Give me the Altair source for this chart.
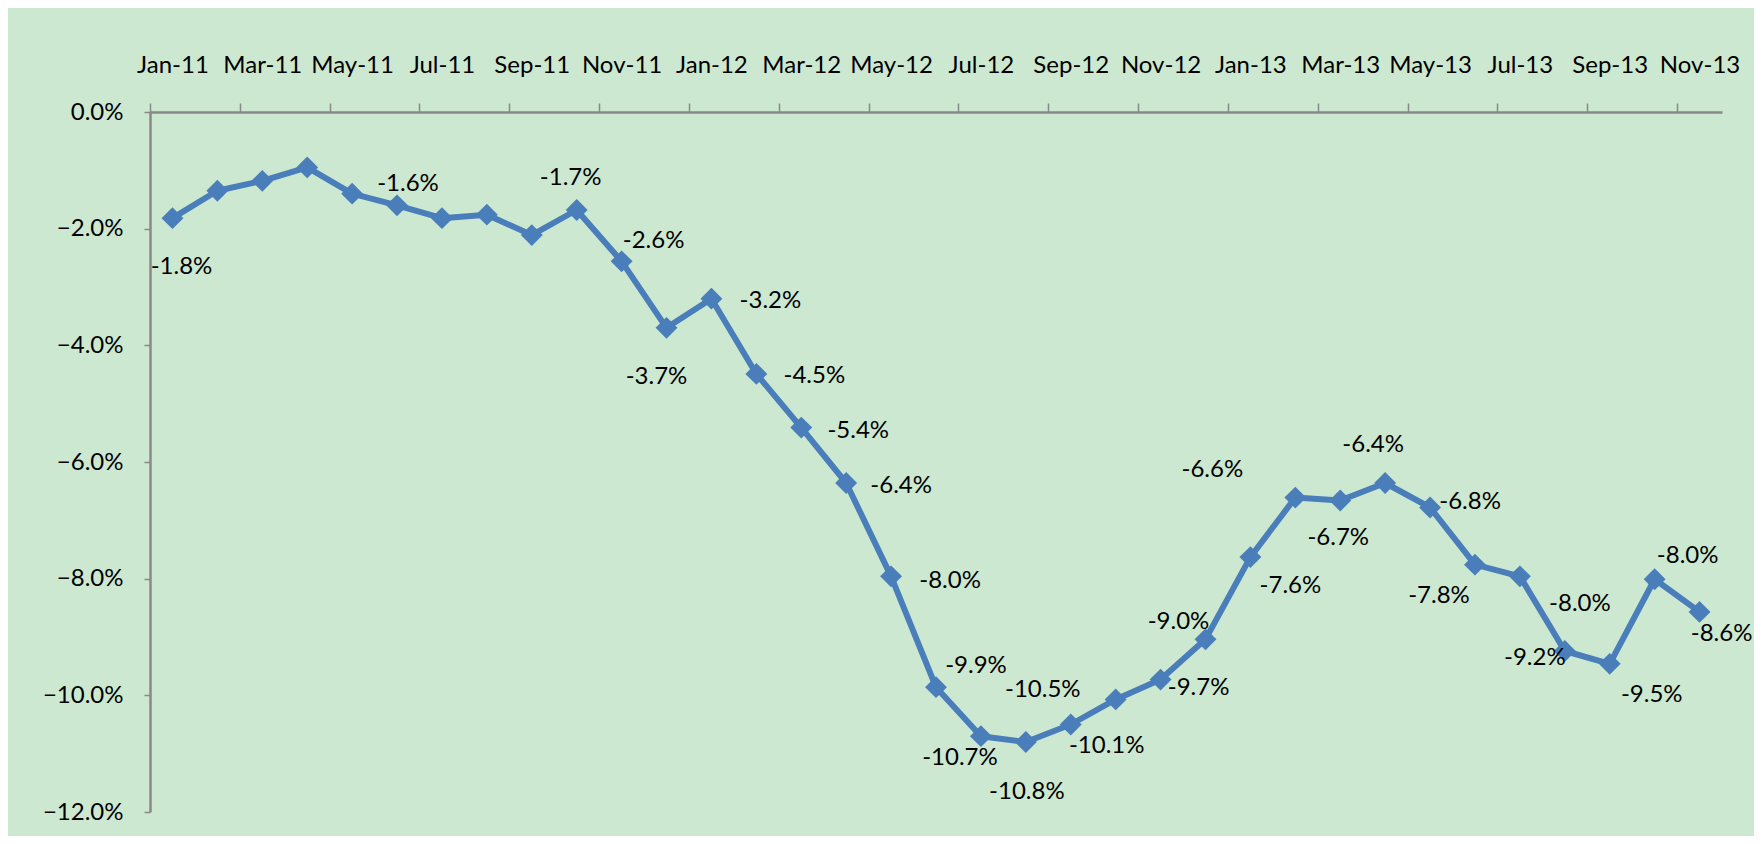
import altair as alt
import pandas as pd

# ---------------- data ----------------
months = [
    "Jan-11", "Feb-11", "Mar-11", "Apr-11", "May-11", "Jun-11", "Jul-11", "Aug-11",
    "Sep-11", "Oct-11", "Nov-11", "Dec-11", "Jan-12", "Feb-12", "Mar-12", "Apr-12",
    "May-12", "Jun-12", "Jul-12", "Aug-12", "Sep-12", "Oct-12", "Nov-12", "Dec-12",
    "Jan-13", "Feb-13", "Mar-13", "Apr-13", "May-13", "Jun-13", "Jul-13", "Aug-13",
    "Sep-13", "Oct-13", "Nov-13",
]
values = [
    -1.82, -1.35, -1.18, -0.95, -1.40, -1.60, -1.82, -1.76,
    -2.11, -1.68, -2.56, -3.70, -3.20, -4.49, -5.41, -6.36,
    -7.96, -9.86, -10.70, -10.80, -10.50, -10.07, -9.73, -9.04,
    -7.63, -6.61, -6.66, -6.36, -6.78, -7.76, -7.96, -9.24,
    -9.46, -8.01, -8.57,
]
show_label = [
    True, False, False, False, False, True, False, False,
    False, True, True, True, True, True, True, True,
    True, True, True, True, True, True, True, True,
    True, True, True, True, True, True, True, True,
    True, True, True,
]
tick_labels = months[::2]
y_ticks = [0, -2, -4, -6, -8, -10, -12]

# label placement (pixel offsets of each data label from its point) - styling only
label_dx = [
    9, 0, 0, 0, 0, 11, 0, 0,
    0, -6, 32, -10, 59, 58, 57, 55,
    59, 40, -21, 1, -28, -9, 38, -27,
    40, -83, -2, -12, 40, -36, 60, -30,
    42, 33, 22,
]
label_dy = [
    49, 0, 0, 0, 0, -21, 0, 0,
    0, -32, -20, 49, 2, 2, 3, 3,
    5, -21, 22, 50, -35, 47, 8, -17,
    29, -28, 37, -38, -6, 31, 28, 7,
    31, -23, 22,
]

# ---------------- style ----------------
FONT = "Lato"
FS = 24
BLUE = "#4A7EBB"
BG = "#CDE8D0"
AXIS_GREY = "#898989"
W, H = 1572, 700
n = len(months)
step = W / n

df = pd.DataFrame({
    "month": months,
    "pos": [i + 0.5 for i in range(n)],
    "value": values,
})
df["label"] = [f"{v:.1f}%" for v in values]

x_scale = alt.Scale(domain=[0, n], nice=False, zero=False)
y_scale = alt.Scale(domain=[-12, 0], nice=False, zero=False)

label_expr = "[" + ",".join(f"'{m}'" for m in tick_labels) + "][round(datum.value/2)]"

x_axis = alt.Axis(
    orient="top", values=list(range(0, n, 2)), labelExpr=label_expr,
    labelOffset=step / 2, tickSize=9, tickColor=AXIS_GREY, tickWidth=1.5,
    domainColor=AXIS_GREY, domainWidth=2.5, labelFont=FONT, labelFontSize=FS,
    labelColor="#000000", labelPadding=31, labelBaseline="alphabetic",
    labelAlign="center", labelAngle=0, labelFlush=False, labelOverlap=False,
    labelBound=False, grid=False, title=None,
)
y_axis = alt.Axis(
    values=y_ticks, labelExpr="format(datum.value, '.1f') + '%'",
    tickSize=6, tickColor=AXIS_GREY, tickWidth=1.5, domainColor=AXIS_GREY,
    domainWidth=2.5, labelFont=FONT, labelFontSize=FS, labelColor="#000000",
    labelPadding=21, labelFlush=False, labelOverlap=False, grid=False, title=None,
)

base = alt.Chart(df)

line = base.mark_line(color=BLUE, strokeWidth=6, strokeJoin="round").encode(
    x=alt.X("pos:Q", scale=x_scale, axis=x_axis),
    y=alt.Y("value:Q", scale=y_scale, axis=y_axis),
)
points = base.mark_point(shape="diamond", filled=True, size=480, color=BLUE, opacity=1).encode(
    x=alt.X("pos:Q", scale=x_scale),
    y=alt.Y("value:Q", scale=y_scale),
)

layers = [line, points]
for i in range(n):
    if not show_label[i]:
        continue
    layers.append(
        base.transform_filter(alt.datum.month == months[i])
        .mark_text(font=FONT, fontSize=FS, color="#000000", align="center",
                   baseline="middle", dx=label_dx[i], dy=label_dy[i])
        .encode(
            x=alt.X("pos:Q", scale=x_scale),
            y=alt.Y("value:Q", scale=y_scale),
            text="label:N",
        )
    )

chart = (
    alt.layer(*layers)
    .properties(
        width=W, height=H,
        padding={"left": 142, "top": 104, "right": 32, "bottom": 24},
        autosize=alt.AutoSizeParams(type="none"),
        background=BG,
    )
    .configure_view(stroke=None)
)

chart.save("out.html", embed_options={"renderer": "svg", "actions": False})
